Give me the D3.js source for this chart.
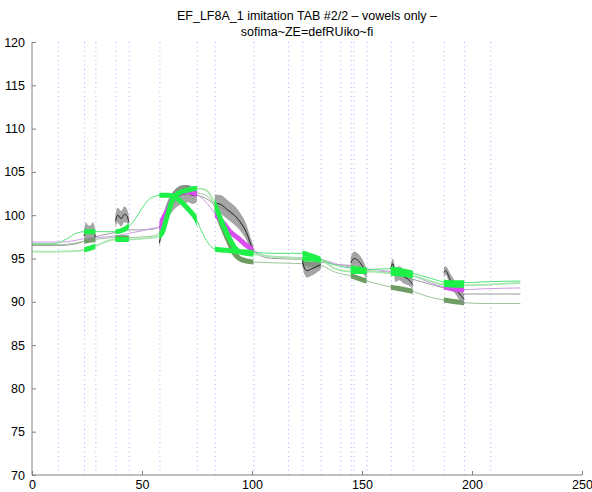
<!DOCTYPE html>
<html><head><meta charset="utf-8">
<script src="https://d3js.org/d3.v7.min.js"></script>
<style>body{margin:0;background:#fff}svg{display:block}text{font-family:"Liberation Sans",Arial,sans-serif;fill:#000}</style>
</head><body><svg id="c" width="592" height="492"></svg>
<script>
const titleLines = ["EF_LF8A_1 imitation TAB #2/2 \u2013 vowels only \u2013", "sofima~ZE=defRUiko~fi"];
const xTicks = [0, 50, 100, 150, 200, 250];
const yTicks = [70, 75, 80, 85, 90, 95, 100, 105, 110, 115, 120];
const markers = [11.8, 23.7, 28.8, 37.9, 44.0, 57.9, 74.9, 83.1, 100.6, 116.4, 122.9, 131.2, 140.1, 144.9, 146.1, 152.1, 163.1, 173.1, 187.2, 196.4, 208.3];
const vowels = [[23.7,28.8],[37.9,44.0],[57.9,74.9],[83.1,100.6],[122.9,131.2],[144.9,152.1],[163.1,173.1],[187.2,196.4]];

const green1 = [[0,96.7],[8,96.7],[11.8,96.8],[16,97.3],[20,97.9],[23.7,98.1],[28.8,98.1],[33,98.1],[37.9,98.1],[44,98.7],[47,99.6],[50,100.8],[53,101.8],[56,102.2],[57.9,102.3],[62,102.3],[65,102.1],[68,101.5],[71,100.7],[74.9,99.45],[77,98.2],[80,96.8],[83.1,96.1],[90,95.9],[100.6,95.7],[110,95.6],[122.9,95.6],[127,95.3],[131.2,94.9],[136,94.4],[140,94.1],[144.9,93.9],[152.1,93.7],[158,93.8],[163.1,93.8],[168,93.6],[173.1,93.3],[180,92.8],[187.2,92.3],[192,92.2],[196.4,92.2],[205,92.3],[222,92.4]];
const green2 = [[0,95.8],[12,95.8],[20,95.85],[23.7,96.0],[28.8,96.4],[33,96.9],[37.9,97.2],[44,97.2],[50,97.3],[55,97.4],[57.9,97.6],[59,97.9],[61,99.5],[63,101.2],[65,102.2],[68,102.7],[71,102.9],[74.9,103.1],[78,103.0],[81,102.4],[83.1,101.2],[86,99.4],[89,97.7],[92,96.3],[95,95.7],[100.6,95.5],[110,95.2],[122.9,95.0],[131.2,94.8],[138,93.8],[144.9,93.5],[152.1,93.5],[163.1,93.3],[173.1,93.0],[187.2,92.0],[196.4,91.9],[222,92.2]];
const olive = [[0,96.6],[12,96.6],[20,96.8],[23.7,97.0],[28.8,97.2],[37.9,97.4],[44,97.4],[50,97.5],[55,97.6],[57.9,98.0],[60,99.2],[62,100.8],[64,102.0],[66,102.8],[68,103.1],[70,103.2],[72,103.0],[74.9,102.6],[78,102.4],[81,101.9],[83.1,100.9],[86,99.0],[89,97.2],[92,95.6],[95,94.9],[100.6,94.6],[110,94.5],[122.9,94.4],[131.2,94.2],[138,93.4],[144.9,93.0],[152.1,92.4],[158,92.0],[163.1,91.7],[173.1,91.2],[180,90.6],[187.2,90.2],[196.4,89.9],[205,89.8],[222,89.8]];
const magenta = [[0,96.9],[12,96.9],[20,97.1],[23.7,97.3],[28.8,97.4],[37.9,97.6],[44,97.9],[50,98.2],[55,98.5],[57.9,98.6],[59,99.3],[61,100.3],[63,101.3],[65,102.0],[67.7,102.6],[71,102.7],[74.9,102.4],[78,101.8],[81,100.9],[83.1,100.2],[87,99.1],[90,98.1],[94,97.3],[97,96.6],[100.6,96.0],[105,95.4],[110,95.2],[122.9,95.1],[131.2,94.9],[138,94.4],[144.9,94.0],[152.1,93.8],[163.1,93.5],[173.1,93.0],[180,92.3],[187.2,91.7],[196.4,91.4],[205,91.5],[222,91.6]];
const grey = [[0,96.5],[12,96.5],[20,96.7],[23.7,97.0],[28.8,97.5],[37.9,98.0],[44,98.3],[50,98.3],[55,98.4],[57.9,98.7],[60,99.8],[63,101.3],[66,102.2],[70,102.5],[74.9,102.3],[80,101.8],[83.1,101.2],[88,100.6],[92,99.8],[96,98.6],[98.5,97.3],[100.6,96.0],[105,95.2],[110,95.0],[122.9,94.9],[131.2,94.6],[138,94.3],[144.9,94.2],[152.1,93.6],[163.1,93.4],[173.1,92.6],[180,92.1],[187.2,91.6],[196.4,90.9],[205,90.9],[222,90.9]];

// mean contour per vowel: [x, mean, sd]
const mean1 = [[23.7,97.6,0.8],[24.6,98.3,0.9],[25.6,97.9,0.9],[26.6,97.9,0.9],[27.6,98.3,0.9],[28.8,97.5,0.8]];
const mean2 = [[37.9,99.3,0.7],[39.0,100.0,0.9],[40.5,99.6,0.9],[42.0,100.1,0.9],[43.2,99.9,0.8],[44.0,99.2,0.7]];
const mean3 = [[57.9,96.8,0.5],[59,98.4,0.8],[61,100.2,1.0],[63.5,101.4,1.1],[66,102.1,1.1],[68.5,102.4,1.1],[71,102.5,1.0],[73,102.3,1.0],[74.9,102.4,0.9]];
const mean4 = [[83.1,101.4,1.0],[86,101.2,1.1],[89,100.6,1.1],[92,100.0,1.1],[95,99.1,1.0],[97.5,98.0,0.9],[99.5,96.6,0.7],[100.6,96.0,0.5]];
const mean5 = [[122.9,94.8,0.4],[123.8,93.9,0.7],[125,93.6,0.8],[127,93.8,0.8],[129,94.0,0.7],[131.2,94.3,0.6]];
const mean6 = [[144.9,94.5,0.7],[146.5,95.0,0.8],[148,94.8,0.8],[150,94.2,0.8],[152.1,93.2,0.6]];
const mean7 = [[163.1,93.8,0.5],[164,94.4,0.6],[165.2,93.1,0.8],[167,93.3,0.8],[169,92.9,0.8],[171,92.6,0.7],[173.1,92.0,0.5]];
const mean8 = [[187.2,93.4,0.5],[188,93.6,0.5],[190,92.6,0.7],[192,91.8,0.7],[194,91.0,0.7],[196.4,90.3,0.6]];

const svg = d3.select("#c");
const W = 592, H = 492;
const m = {l: 32, r: 10, t: 42, b: 17};
const x = d3.scaleLinear().domain([0, 250]).range([m.l, W - m.r]);
const y = d3.scaleLinear().domain([70, 120]).range([H - m.b, m.t]);

// title
svg.append("text").attr("x", (x(0) + x(250)) / 2).attr("y", 20).attr("text-anchor", "middle").style("font-size", "12.5px").text(titleLines[0]);
svg.append("text").attr("x", (x(0) + x(250)) / 2).attr("y", 35.5).attr("text-anchor", "middle").style("font-size", "12.5px").text(titleLines[1]);

// clip paths for vowel intervals
const defs = svg.append("defs");
const vclip = defs.append("clipPath").attr("id", "vow");
vowels.forEach(v => vclip.append("rect").attr("x", x(v[0])).attr("y", 0).attr("width", x(v[1]) - x(v[0])).attr("height", H));

// marker lines
svg.append("g").selectAll("line").data(markers).join("line")
  .attr("x1", d => x(d) + 0.5).attr("x2", d => x(d) + 0.5)
  .attr("y1", y(120)).attr("y2", y(70))
  .attr("stroke", "#6a6aff").attr("stroke-opacity", 0.55).attr("stroke-width", 1).attr("stroke-dasharray", "1,3.5");

const line = d3.line().x(d => x(d[0])).y(d => y(d[1])).curve(d3.curveMonotoneX);

// thin lines
const thin = [
  [grey, "#9a9a9a", 1],
  [olive, "#9cc49c", 1],
  [magenta, "#cf9be6", 1],
  [green2, "#a8e8ae", 1.8],
  [green1, "#52e27a", 1]
];
thin.forEach(([d, c, w]) => svg.append("path").datum(d).attr("d", line).attr("fill", "none").attr("stroke", c).attr("stroke-width", w));

// olive thick
svg.append("path").datum(olive).attr("d", line).attr("fill", "none").attr("stroke", "#6f9c63").attr("stroke-width", 5).attr("clip-path", "url(#vow)");

// grey bands and mean
const area = d3.area().x(d => x(d[0])).y0(d => y(d[1] - d[2])).y1(d => y(d[1] + d[2])).curve(d3.curveMonotoneX);
const means = [mean1, mean2, mean3, mean4, mean5, mean6, mean7, mean8];
means.forEach(mn => {
  svg.append("path").datum(mn).attr("d", area).attr("fill", "#8f8f8f").attr("fill-opacity", 0.8);
  svg.append("path").datum(mn).attr("d", line).attr("fill", "none").attr("stroke", "#222").attr("stroke-width", 1);
});

// magenta thick in selected vowels
const magClip = defs.append("clipPath").attr("id", "magv");
[2, 3, 7].forEach(i => magClip.append("rect").attr("x", x(vowels[i][0])).attr("y", 0).attr("width", x(vowels[i][1]) - x(vowels[i][0])).attr("height", H));
svg.append("path").datum(magenta).attr("d", line).attr("fill", "none").attr("stroke", "#d84cf0").attr("stroke-width", 5).attr("clip-path", "url(#magv)");

// green thick
[green2, green1].forEach(d => svg.append("path").datum(d).attr("d", line).attr("fill", "none").attr("stroke", "#1ef048").attr("stroke-width", 5).attr("clip-path", "url(#vow)"));

// axes
const axCol = "#808080";
const gx = svg.append("g").attr("transform", `translate(0,${y(70)})`)
  .call(d3.axisTop(x).tickValues(xTicks).tickSize(4).tickFormat(d3.format("d")));
gx.select(".domain").attr("stroke", axCol).attr("d", `M${x(0)},0H${x(250)}`);
gx.selectAll(".tick line").attr("stroke", axCol);
gx.selectAll(".tick text").attr("y", 13.5).attr("dy", "0").style("font-size", "12.5px").attr("fill", "#000");

const gy = svg.append("g").attr("transform", `translate(${x(0)},0)`)
  .call(d3.axisRight(y).tickValues(yTicks).tickSize(4).tickFormat(d3.format("d")));
gy.select(".domain").attr("stroke", axCol).attr("d", `M0,${y(70)}V${y(120)}`);
gy.selectAll(".tick line").attr("stroke", axCol);
gy.selectAll(".tick text").attr("x", -7).attr("text-anchor", "end").style("font-size", "12.5px").attr("fill", "#000");
</script></body></html>
